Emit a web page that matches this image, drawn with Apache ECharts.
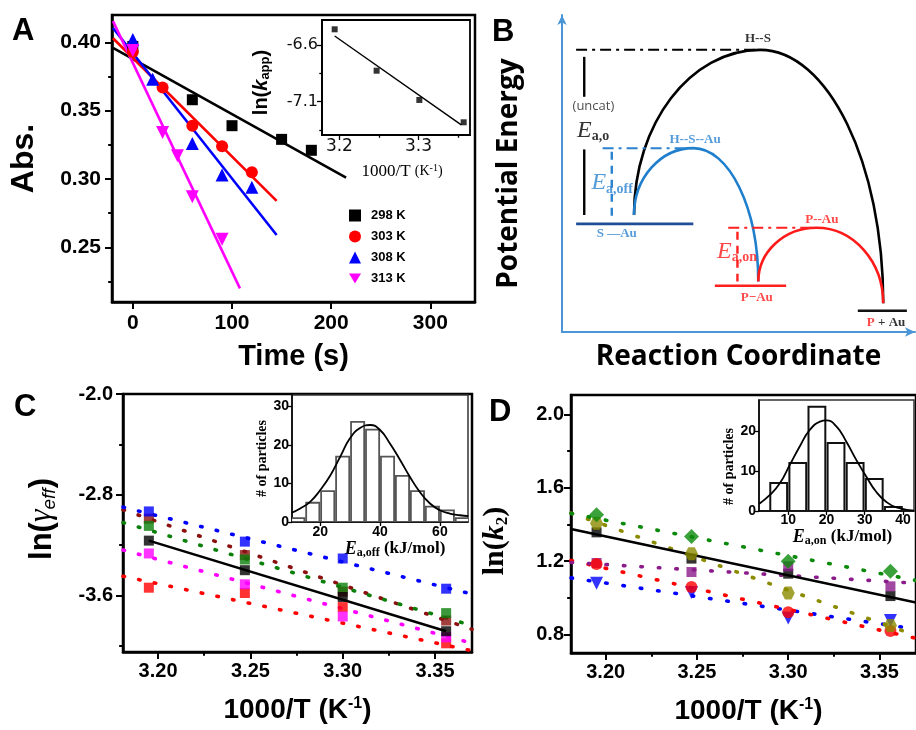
<!DOCTYPE html>
<html>
<head>
<meta charset="utf-8">
<script src="https://cdn.jsdelivr.net/npm/echarts/dist/echarts.min.js"></script>
<style>
html,body{margin:0;padding:0;background:#fff;}
#chart{width:916px;height:730px;}
</style>
</head>
<body>
<div id="chart"></div>
<script>
// ================= Panel A : absorbance vs time =================
const tempLabels = ['298 K', '303 K', '308 K', '313 K'];
const time298 = [0, 60, 100, 150, 180];
const abs298  = [0.397, 0.358, 0.339, 0.329, 0.321];
const time303 = [0, 30, 60, 90, 120];
const abs303  = [0.393, 0.367, 0.339, 0.324, 0.305];
const time308 = [0, 20, 60, 90, 120];
const abs308  = [0.402, 0.373, 0.326, 0.303, 0.294];
const time313 = [0, 30, 45, 60, 90];
const abs313  = [0.394, 0.334, 0.317, 0.287, 0.256];
const fit298 = [[-20, 0.396], [215, 0.301]];
const fit303 = [[-20, 0.403], [145, 0.284]];
const fit308 = [[-20, 0.4105], [145, 0.259]];
const fit313 = [[-20, 0.4155], [108, 0.220]];
const ticksTime = [0, 100, 200, 300];
const ticksAbs = [0.25, 0.30, 0.35, 0.40];
const minorAbs = [0.225, 0.275, 0.325, 0.375];
// inset of A
const invTA = [3.194, 3.247, 3.301, 3.357];
const lnKapp = [-6.462, -6.827, -7.085, -7.282];
const fitKapp = [[3.194, -6.521], [3.354, -7.305]];
const ticksInvTA = [3.2, 3.3];
const minorInvTA = [3.25, 3.35];
const ticksLnK = [-6.6, -7.1];
const minorLnK = [-6.85, -7.35];

// ================= Panel B : energy diagram (schematic units 0-100) =================
const bLevels = [[4, 37.2, 34.1], [43.3, 63.5, 14.6], [83.8, 97.7, 6.7]];       // [x0, x1, E]
const bTransition = [[4, 55.9, 89], [11.5, 38.2, 58], [47.1, 71.1, 32.9]];      // [x0, x1, E]
const bArcs = [[20.4, 36.9, 56.1, 89, 91, 9.1],
               [20.4, 36.9, 37.2, 58, 55.6, 15.9],
               [55.6, 15.9, 72.1, 32.9, 91, 9.1]];                             // start, peak, end
const bBars = [[6.3, 86.8, 74.2], [6.3, 57.6, 36.9], [14.1, 56.9, 35.9], [49.7, 31.6, 15.9]]; // [x, E0, E1]
const bLabelPos = [[55.5, 92.6], [37.7, 60.8], [73.6, 35.6], [15.5, 30.9], [55.2, 10.9],
                   [91.8, 2.9], [8.9, 71.1], [8.8, 63.5], [14.2, 47.0], [49.6, 25.4]];
const bLabelText = ['{k|H--S}', '{b|H--S--Au}', '{r|P--Au}', '{b|S —Au}', '{r|P−Au}',
                    '{r|P}{k| + Au}', '{u|(uncat)}', '{ek|E}{sk|a,o}', '{eb|E}{sb|a,off}', '{er|E}{sr|a,on}'];

// ================= Panel C : ln(gamma_eff) vs 1000/T =================
const invTC = [3.195, 3.247, 3.300, 3.356];
const gBlue    = [-2.933, -3.173, -3.307, -3.547];
const gGreen   = [-3.048, -3.315, -3.539, -3.741];
const gDarkRed = [-2.99, -3.28, -3.57, -3.80];
const gBlack   = [-3.165, -3.400, -3.613, -3.885];
const gMagenta = [-3.267, -3.512, -3.768, -3.933];
const gRed     = [-3.539, -3.581, -3.693, -3.981];
const fitGBlue    = [[3.181, -2.899], [3.37, -3.59]];
const fitGGreen   = [[3.181, -3.021], [3.37, -3.84]];
const fitGDarkRed = [[3.181, -2.92], [3.37, -3.87]];
const fitGMagenta = [[3.181, -3.24], [3.37, -3.98]];
const fitGRed     = [[3.181, -3.448], [3.37, -4.04]];
const fitGBlack   = [[3.195, -3.165], [3.356, -3.885]];
const ticksInvT = [3.20, 3.25, 3.30, 3.35];
const minorInvT = [3.225, 3.275, 3.325];
const ticksGamma = [-2.0, -2.8, -3.6];
const minorGamma = [-2.4, -3.2, -4.0];
// inset of C : histogram of Ea,off
const binEdgesOff = [10, 15, 20, 25, 30, 35, 40, 45, 50, 55, 60, 65, 70];
const countsOff = [1, 5, 8, 17, 26, 24, 17, 12, 8, 4, 3, 1];
const gaussOffX = [10.5, 13.3, 16.7, 20, 23.3, 26.7, 30, 33.3, 36.7, 40, 43.3, 46.7, 50, 53.3, 56.7, 60, 63.3, 66.7, 69.5];
const gaussOffY = [2.4, 3.5, 5.3, 8.3, 12.0, 17.0, 21.8, 24.4, 25.2, 23.9, 20.4, 16.1, 11.7, 7.8, 4.8, 3.05, 2.2, 1.75, 1.5];
const ticksOffX = [20, 40, 60];
const ticksOffY = [0, 10, 20, 30];

// ================= Panel D : ln(k2) vs 1000/T =================
const invTD = [3.195, 3.247, 3.300, 3.356];
const kGreen  = [1.453, 1.335, 1.199, 1.145];
const kOlive  = [1.407, 1.241, 1.027, 0.850];
const kBlack  = [1.357, 1.214, 1.132, 1.010];
const kPurple = [1.190, 1.141, 1.172, 1.063];
const kRed    = [1.185, 1.060, 0.922, 0.820];
const kBlue   = [1.080, 1.030, 0.891, 0.877];
const fitKGreen  = [[3.181, 1.46], [3.37, 1.095]];
const fitKOlive  = [[3.181, 1.462], [3.37, 0.795]];
const fitKPurple = [[3.181, 1.193], [3.37, 1.08]];
const fitKRed    = [[3.181, 1.204], [3.37, 0.78]];
const fitKBlue   = [[3.181, 1.109], [3.37, 0.83]];
const fitKBlack  = [[3.181, 1.375], [3.37, 0.975]];
const ticksK2 = [0.8, 1.2, 1.6, 2.0];
const minorK2 = [1.0, 1.4, 1.8];
// inset of D : histogram of Ea,on
const binEdgesOn = [5, 10, 15, 20, 25, 30, 35, 40];
const countsOn = [7, 12, 26, 17, 12, 8, 1];
const gaussOnX = [2.35, 5.2, 7.8, 10.4, 13.0, 15.6, 18.3, 20.0, 22.6, 25.2, 27.8, 30.4, 33.0, 35.6, 38.3, 42.9];
const gaussOnY = [1.75, 4.0, 6.9, 11.5, 16.1, 20.2, 22.3, 22.6, 21.1, 17.3, 12.75, 8.6, 4.8, 2.3, 0.9, 0.1];
const ticksOnX = [10, 20, 30, 40];
const ticksOnY = [0, 10, 20];

// ================= styling =================
const DV = 'DejaVu Sans';
const LS = 'Liberation Sans';
const SERIF = 'Liberation Serif';
const OS = 'Open Sans';

const pairs = (xs, ys) => xs.map((x, i) => [x, ys[i]]);

const xAxes = [], yAxes = [];
function axisPair(gi, min, max, majors, minors, o) {
  const list = [];
  list.push({
    type: 'value', gridIndex: gi, min: min, max: max, position: o.position,
    axisLine: {show: true, onZero: false, lineStyle: {color: o.color || '#000', width: o.lw || 2.5}},
    axisTick: {show: true, inside: false, length: o.tl || 7, customValues: majors,
               lineStyle: {color: '#000', width: o.tw || 2}},
    axisLabel: {show: true, customValues: majors, margin: o.margin == null ? 8 : o.margin,
                formatter: o.formatter, color: o.labelColor || '#000', fontFamily: o.font || LS,
                fontWeight: o.weight || 'bold', fontSize: o.fs || 20},
    splitLine: {show: false},
    name: o.name || '', nameLocation: 'middle', nameGap: o.nameGap || 30,
    nameRotate: o.nameRotate, nameTextStyle: o.nameTextStyle || {}
  });
  if (minors) {
    list.push({
      type: 'value', gridIndex: gi, min: min, max: max, position: o.position,
      axisLine: {show: false, onZero: false},
      axisTick: {show: true, inside: false, length: (o.tl || 7) * 0.55, customValues: minors,
                 lineStyle: {color: '#000', width: o.tw || 2}},
      axisLabel: {show: false}, splitLine: {show: false}
    });
  }
  return list;
}
function addX(list) { const i = xAxes.length; list.forEach(a => xAxes.push(a)); return i; }
function addY(list) { const i = yAxes.length; list.forEach(a => yAxes.push(a)); return i; }

const f1 = v => v.toFixed(1), f2 = v => v.toFixed(2), f0 = v => String(v);
const supRich = {
  base: {fontFamily: LS, fontWeight: 'bold', fontSize: 28, color: '#000'},
  sup: {fontFamily: LS, fontWeight: 'bold', fontSize: 16, color: '#000', verticalAlign: 'top', lineHeight: 16}
};

// ---- A axes
const axA = addX(axisPair(0, -21, 345, ticksTime, null, {position: 'bottom', fs: 21, margin: 11, formatter: f0,
  name: 'Time (s)', nameGap: 40, nameTextStyle: {fontFamily: LS, fontWeight: 'bold', fontSize: 29, color: '#000'}}));
const ayA = addY(axisPair(0, 0.21, 0.42, ticksAbs, minorAbs, {position: 'left', fs: 21, margin: 11, formatter: f2,
  name: 'Abs.', nameGap: 72, nameRotate: 90, nameTextStyle: {fontFamily: LS, fontWeight: 'bold', fontSize: 32, color: '#000'}}));
const axAi = addX(axisPair(1, 3.178, 3.365, ticksInvTA, minorInvTA, {position: 'bottom', lw: 1.8, tl: 5, tw: 1.3, fs: 17,
  font: DV, weight: 'normal', margin: 3, formatter: f1, labelColor: '#111',
  name: '1000/T {k|(K}{s|-1}{k|)}', nameGap: 28,
  nameTextStyle: {fontFamily: SERIF, fontSize: 17, color: '#000', padding: [0, 0, 0, 12],
    rich: {k: {fontFamily: SERIF, fontSize: 14, color: '#000'}, s: {fontFamily: SERIF, fontSize: 10, verticalAlign: 'top', lineHeight: 10, color: '#000'}}}}));
const ayAi = addY(axisPair(1, -7.394, -6.38, ticksLnK, minorLnK, {position: 'left', lw: 1.8, tl: 5, tw: 1.3, fs: 16,
  font: DV, weight: 'normal', margin: 4, formatter: f1, labelColor: '#111',
  name: '{n|ln(}{i|k}{s|app}{n|)}', nameGap: 50, nameRotate: 90,
  nameTextStyle: {padding: [0, 10, 0, 0], rich: {
    n: {fontFamily: LS, fontWeight: 'bold', fontSize: 20, color: '#000', lineHeight: 22},
    i: {fontFamily: LS, fontWeight: 'bold', fontStyle: 'italic', fontSize: 20, color: '#000', lineHeight: 22},
    s: {fontFamily: LS, fontWeight: 'bold', fontSize: 13, color: '#000', verticalAlign: 'bottom', lineHeight: 12}}}}));

// ---- B axes
const bAxisColor = '#4a95d6';
const axB = addX([{type: 'value', gridIndex: 2, min: 0, max: 100, position: 'bottom',
  axisLine: {show: true, onZero: false, symbol: ['none', 'arrow'], symbolSize: [7, 10], lineStyle: {color: bAxisColor, width: 2}},
  axisTick: {show: false}, axisLabel: {show: false}, splitLine: {show: false},
  name: 'Reaction Coordinate', nameLocation: 'middle', nameGap: 11,
  nameTextStyle: {fontFamily: OS, fontWeight: 'bold', fontSize: 28, color: '#000'}}]);
const ayB = addY([{type: 'value', gridIndex: 2, min: 0, max: 100, position: 'left',
  axisLine: {show: true, onZero: false, symbol: ['none', 'arrow'], symbolSize: [7, 10], lineStyle: {color: bAxisColor, width: 2}},
  axisTick: {show: false}, axisLabel: {show: false}, splitLine: {show: false},
  name: 'Potential Energy', nameLocation: 'middle', nameGap: 39, nameRotate: 90,
  nameTextStyle: {fontFamily: OS, fontWeight: 'bold', fontSize: 28, color: '#000'}}]);

// ---- C axes
const axC = addX(axisPair(3, 3.181, 3.370, ticksInvT, minorInvT, {position: 'bottom', fs: 20, margin: 9, formatter: f2,
  name: '{base|1000/T (K}{sup|-1}{base|)}', nameGap: 44, nameTextStyle: {rich: supRich}}));
const ayC = addY(axisPair(3, -4.05, -2.0, ticksGamma, minorGamma, {position: 'left', fs: 20, margin: 10, formatter: f1,
  name: '{a|ln(}{g|γ}{s|eff}{a|)}', nameGap: 64, nameRotate: 90,
  nameTextStyle: {padding: [0, 0, 0, 8], rich: {
    a: {fontFamily: LS, fontWeight: 'bold', fontSize: 31, color: '#000', lineHeight: 34},
    g: {fontFamily: SERIF, fontStyle: 'italic', fontSize: 32, color: '#000', lineHeight: 34},
    s: {fontFamily: LS, fontStyle: 'italic', fontSize: 19, color: '#000', verticalAlign: 'bottom', lineHeight: 18}}}}));
const axCi = addX(axisPair(4, 10.56, 69.4, ticksOffX, null, {position: 'bottom', lw: 1.5, tl: 4, tw: 1.3, fs: 14, margin: 3, formatter: f0,
  name: '{e|E}{s|a,off}{n| (kJ/mol)}', nameGap: 14,
  nameTextStyle: {padding: [0, 0, 0, 30], rich: {
    e: {fontFamily: SERIF, fontStyle: 'italic', fontWeight: 'bold', fontSize: 18, color: '#000', lineHeight: 20},
    s: {fontFamily: SERIF, fontWeight: 'bold', fontSize: 12, color: '#000', verticalAlign: 'bottom', lineHeight: 12},
    n: {fontFamily: SERIF, fontWeight: 'bold', fontSize: 17, color: '#000', lineHeight: 20}}}}));
const ayCi = addY(axisPair(4, 0, 33, ticksOffY, null, {position: 'left', lw: 1.5, tl: 4, tw: 1.3, fs: 14, margin: 3, formatter: f0,
  name: '# of particles', nameGap: 22, nameRotate: 90,
  nameTextStyle: {fontFamily: SERIF, fontWeight: 'bold', fontSize: 14, color: '#000'}}));

// ---- D axes
const axD = addX(axisPair(5, 3.181, 3.370, ticksInvT, minorInvT, {position: 'bottom', fs: 20, margin: 9, formatter: f2,
  name: '{base|1000/T (K}{sup|-1}{base|)}', nameGap: 44, nameTextStyle: {padding: [0, 0, 0, 10], rich: supRich}}));
const ayD = addY(axisPair(5, 0.70, 2.105, ticksK2, minorK2, {position: 'left', fs: 20, margin: 7, formatter: f1,
  name: '{a|ln(}{i|k}{s|2}{a|)}', nameGap: 60, nameRotate: 90,
  nameTextStyle: {padding: [0, 34, 0, 0], rich: {
    a: {fontFamily: SERIF, fontWeight: 'bold', fontSize: 30, color: '#000', lineHeight: 32},
    i: {fontFamily: SERIF, fontWeight: 'bold', fontStyle: 'italic', fontSize: 30, color: '#000', lineHeight: 32},
    s: {fontFamily: SERIF, fontWeight: 'bold', fontSize: 17, color: '#000', verticalAlign: 'bottom', lineHeight: 17}}}}));
const axDi = addX(axisPair(6, 2.35, 42.9, ticksOnX, null, {position: 'bottom', lw: 1.5, tl: 4, tw: 1.3, fs: 14, margin: 2, formatter: f0,
  name: '{e|E}{s|a,on}{n| (kJ/mol)}', nameGap: 13,
  nameTextStyle: {padding: [0, 0, 0, 12], rich: {
    e: {fontFamily: SERIF, fontStyle: 'italic', fontWeight: 'bold', fontSize: 18, color: '#000', lineHeight: 20},
    s: {fontFamily: SERIF, fontWeight: 'bold', fontSize: 12, color: '#000', verticalAlign: 'bottom', lineHeight: 12},
    n: {fontFamily: SERIF, fontWeight: 'bold', fontSize: 17, color: '#000', lineHeight: 20}}}}));
const ayDi = addY(axisPair(6, 0, 27.7, ticksOnY, null, {position: 'left', lw: 1.5, tl: 4, tw: 1.3, fs: 14, margin: 3, formatter: f0,
  name: '# of particles', nameGap: 20, nameRotate: 90,
  nameTextStyle: {fontFamily: SERIF, fontWeight: 'bold', fontSize: 14, color: '#000', padding: [0, 22, 0, 0]}}));

// ================= series =================
const series = [];
const aColors = ['#000000', '#ff0000', '#0000ff', '#ff00ff'];
const downTri = 'path://M0,0 L20,0 L10,17 Z';
const aSymbols = ['rect', 'circle', 'triangle', downTri];
const aSizes = [11, 12, 13, 13];
const aPts = [pairs(time298, abs298), pairs(time303, abs303), pairs(time308, abs308), pairs(time313, abs313)];
const aFits = [fit298, fit303, fit308, fit313];
aFits.forEach((f, i) => series.push({type: 'line', xAxisIndex: axA, yAxisIndex: ayA, data: f, symbol: 'none',
  lineStyle: {color: aColors[i], width: 2.6}, silent: true, z: 2}));
aPts.forEach((p, i) => series.push({type: 'scatter', name: tempLabels[i], xAxisIndex: axA, yAxisIndex: ayA, data: p,
  symbol: aSymbols[i], symbolSize: aSizes[i], itemStyle: {color: aColors[i], opacity: 1}, z: 3}));
series.push({type: 'line', xAxisIndex: axAi, yAxisIndex: ayAi, data: fitKapp, symbol: 'none', lineStyle: {color: '#000', width: 1.4}});
series.push({type: 'scatter', xAxisIndex: axAi, yAxisIndex: ayAi, data: pairs(invTA, lnKapp), symbol: 'rect', symbolSize: 6, itemStyle: {color: '#000'}});

// ---- B
const bLevelColors = ['#1f4e96', '#ff2020', '#111111'];
const bTransColors = ['#000000', '#2b83cf', '#ff2020'];
const bArcColors = ['#000000', '#1f7fcc', '#ff1a1a'];
const bBarColors = ['#000000', '#000000', '#2b83cf', '#ff2020'];
const bBarDash = [null, null, [8, 6], [8, 6]];
series.push({type: 'custom', xAxisIndex: axB, yAxisIndex: ayB, data: bArcs, silent: true, z: 2,
  renderItem: function (params, api) {
    const p0 = api.coord([api.value(0), api.value(1)]);
    const pp = api.coord([api.value(2), api.value(3)]);
    const p1 = api.coord([api.value(4), api.value(5)]);
    const k = 0.5523;
    const d = 'M' + p0[0] + ',' + p0[1] +
      ' C' + p0[0] + ',' + (p0[1] + k * (pp[1] - p0[1])) + ' ' + (pp[0] - k * (pp[0] - p0[0])) + ',' + pp[1] + ' ' + pp[0] + ',' + pp[1] +
      ' C' + (pp[0] + k * (p1[0] - pp[0])) + ',' + pp[1] + ' ' + p1[0] + ',' + (p1[1] - k * (p1[1] - pp[1])) + ' ' + p1[0] + ',' + p1[1];
    return {type: 'path', shape: {pathData: d}, style: {fill: 'none', stroke: bArcColors[params.dataIndex], lineWidth: 2.6}};
  }});
function segSeries(data, colors, dashes, width) {
  return {type: 'custom', xAxisIndex: axB, yAxisIndex: ayB, data: data, silent: true, z: 3,
    renderItem: function (params, api) {
      const a = api.coord([api.value(0), api.value(1)]);
      const b = api.coord([api.value(2), api.value(3)]);
      const st = {stroke: colors[params.dataIndex], lineWidth: width, fill: 'none'};
      const dash = dashes[params.dataIndex];
      if (dash) st.lineDash = dash;
      return {type: 'line', shape: {x1: a[0], y1: a[1], x2: b[0], y2: b[1]}, style: st};
    }};
}
series.push(segSeries(bLevels.map(l => [l[0], l[2], l[1], l[2]]), bLevelColors, [null, null, null], 2.6));
series.push(segSeries(bTransition.map(l => [l[0], l[2], l[1], l[2]]), bTransColors, [[11, 5, 3, 5], [11, 5, 3, 5], [11, 5, 3, 5]], 2));
series.push(segSeries(bBars.map(b => [b[0], b[1], b[0], b[2]]), bBarColors, bBarDash, 2.4));
series.push({type: 'scatter', xAxisIndex: axB, yAxisIndex: ayB, data: bLabelPos, symbolSize: 1, silent: true, z: 4,
  itemStyle: {color: 'rgba(0,0,0,0)'},
  label: {show: true, position: 'inside', formatter: p => bLabelText[p.dataIndex], rich: {
    k: {fontFamily: SERIF, fontWeight: 'bold', fontSize: 13, color: '#000'},
    b: {fontFamily: SERIF, fontWeight: 'bold', fontSize: 13, color: '#2b83cf'},
    r: {fontFamily: SERIF, fontWeight: 'bold', fontSize: 13, color: '#ff1a1a'},
    u: {fontFamily: OS, fontSize: 13, color: '#222'},
    ek: {fontFamily: SERIF, fontStyle: 'italic', fontSize: 24, color: '#000', lineHeight: 26},
    sk: {fontFamily: SERIF, fontWeight: 'bold', fontSize: 14, color: '#000', verticalAlign: 'bottom', lineHeight: 14},
    eb: {fontFamily: SERIF, fontStyle: 'italic', fontSize: 24, color: '#2b83cf', lineHeight: 26},
    sb: {fontFamily: SERIF, fontWeight: 'bold', fontSize: 14, color: '#2b83cf', verticalAlign: 'bottom', lineHeight: 14},
    er: {fontFamily: SERIF, fontStyle: 'italic', fontSize: 24, color: '#ff1a1a', lineHeight: 26},
    sr: {fontFamily: SERIF, fontWeight: 'bold', fontSize: 14, color: '#ff1a1a', verticalAlign: 'bottom', lineHeight: 14}
  }}});

// ---- C
const cColors = {blue: '#0000ff', green: '#0a800a', darkred: '#8b1010', black: '#000000', magenta: '#ff00ff', red: '#ff0000'};
const cDotStyle = c => ({color: c, width: 3.6, type: [1.5, 14.5], cap: 'round'});
[[fitGDarkRed, 'darkred'], [fitGRed, 'red'], [fitGMagenta, 'magenta'], [fitGGreen, 'green'], [fitGBlue, 'blue']].forEach(f =>
  series.push({type: 'line', xAxisIndex: axC, yAxisIndex: ayC, data: f[0], symbol: 'none', lineStyle: cDotStyle(cColors[f[1]]), silent: true}));
series.push({type: 'line', xAxisIndex: axC, yAxisIndex: ayC, data: fitGBlack, symbol: 'none', lineStyle: {color: '#000', width: 2.6}, z: 3});
[[gDarkRed, 'darkred'], [gRed, 'red'], [gMagenta, 'magenta'], [gGreen, 'green'], [gBlue, 'blue'], [gBlack, 'black']].forEach(s =>
  series.push({type: 'scatter', xAxisIndex: axC, yAxisIndex: ayC, data: pairs(invTC, s[0]), symbol: 'rect', symbolSize: 10,
    itemStyle: {color: cColors[s[1]]}, z: 4}));
// C inset
const histItem = (stroke, lw) => function (params, api) {
  const pad = 0.3;
  const a = api.coord([api.value(0) + pad, 0]);
  const b = api.coord([api.value(1) - pad, api.value(2)]);
  return {type: 'rect', shape: {x: a[0], y: b[1], width: b[0] - a[0], height: a[1] - b[1]},
          style: {fill: '#fff', stroke: stroke, lineWidth: lw}};
};
series.push({type: 'custom', xAxisIndex: axCi, yAxisIndex: ayCi, clip: true,
  data: countsOff.map((c, i) => [binEdgesOff[i], binEdgesOff[i + 1], c]), renderItem: histItem('#555', 1.8), z: 2});
series.push({type: 'line', xAxisIndex: axCi, yAxisIndex: ayCi, data: pairs(gaussOffX, gaussOffY), smooth: true,
  symbol: 'none', lineStyle: {color: '#000', width: 1.8}, z: 3});

// ---- D
const dColors = {green: '#0a8a0a', olive: '#8b8b00', purple: '#8b1a8b', red: '#ff0000', blue: '#0000ff', black: '#000000'};
const dDotStyle = c => ({color: c, width: 3.6, type: [1.5, 16], cap: 'round'});
[[fitKBlue, 'blue'], [fitKRed, 'red'], [fitKPurple, 'purple'], [fitKOlive, 'olive'], [fitKGreen, 'green']].forEach(f =>
  series.push({type: 'line', xAxisIndex: axD, yAxisIndex: ayD, data: f[0], symbol: 'none', lineStyle: dDotStyle(dColors[f[1]]), silent: true}));
series.push({type: 'line', xAxisIndex: axD, yAxisIndex: ayD, data: fitKBlack, symbol: 'none', lineStyle: {color: '#000', width: 2.6}, z: 3});
const hexagon = 'path://M25,0 L75,0 L100,43 L75,86 L25,86 L0,43 Z';
[[kBlack, 'black', 'rect', 10], [kPurple, 'purple', 'rect', 10], [kBlue, 'blue', downTri, 13], [kRed, 'red', 'circle', 12],
 [kOlive, 'olive', hexagon, 13], [kGreen, 'green', 'diamond', 15]].forEach(s =>
  series.push({type: 'scatter', xAxisIndex: axD, yAxisIndex: ayD, data: pairs(invTD, s[0]), symbol: s[2], symbolSize: s[3],
    itemStyle: {color: dColors[s[1]]}, z: 4}));
// D inset
series.push({type: 'custom', xAxisIndex: axDi, yAxisIndex: ayDi, clip: true,
  data: countsOn.map((c, i) => [binEdgesOn[i], binEdgesOn[i + 1], c]), renderItem: histItem('#111', 2), z: 2});
series.push({type: 'line', xAxisIndex: axDi, yAxisIndex: ayDi, data: pairs(gaussOnX, gaussOnY), smooth: true,
  symbol: 'none', lineStyle: {color: '#000', width: 1.8}, z: 3});

// ================= chart =================
const chart = echarts.init(document.getElementById('chart'), null, {renderer: 'canvas'});
chart.setOption({
  animation: false,
  backgroundColor: '#fff',
  grid: [
    {left: 112, top: 15, width: 363, height: 287, show: true, borderColor: '#000', borderWidth: 2.5},
    {left: 322, top: 20, width: 148, height: 115, show: true, borderColor: '#000', borderWidth: 1.8, backgroundColor: '#fff'},
    {left: 562, top: 15, width: 353, height: 317, show: false},
    {left: 123, top: 394, width: 349, height: 258, show: true, borderColor: '#000', borderWidth: 2.5},
    {left: 292, top: 395, width: 176, height: 127, show: true, borderColor: '#333', borderWidth: 1.5, backgroundColor: '#fff'},
    {left: 571, top: 395, width: 349, height: 258, show: true, borderColor: '#000', borderWidth: 2.5},
    {left: 759, top: 400, width: 155, height: 111, show: true, borderColor: '#333', borderWidth: 1.5, backgroundColor: '#fff'}
  ],
  xAxis: xAxes,
  yAxis: yAxes,
  legend: {
    data: tempLabels.map((n, i) => ({name: n, icon: aSymbols[i]})),
    orient: 'vertical', left: 344, top: 204, itemWidth: 12, itemHeight: 12, itemGap: 8, selectedMode: false,
    textStyle: {fontFamily: LS, fontWeight: 'bold', fontSize: 13, color: '#000', padding: [0, 0, 0, 5]}
  },
  graphic: [
    {type: 'text', left: 12, top: 16, style: {text: 'A', font: 'bold 31px "Liberation Sans"', fill: '#000'}},
    {type: 'text', left: 492, top: 17, style: {text: 'B', font: 'bold 31px "Liberation Sans"', fill: '#000'}},
    {type: 'text', left: 14, top: 392, style: {text: 'C', font: 'bold 31px "Liberation Sans"', fill: '#000'}},
    {type: 'text', left: 489, top: 397, style: {text: 'D', font: 'bold 31px "Liberation Sans"', fill: '#000'}}
  ],
  series: series
});
</script>
</body>
</html>
